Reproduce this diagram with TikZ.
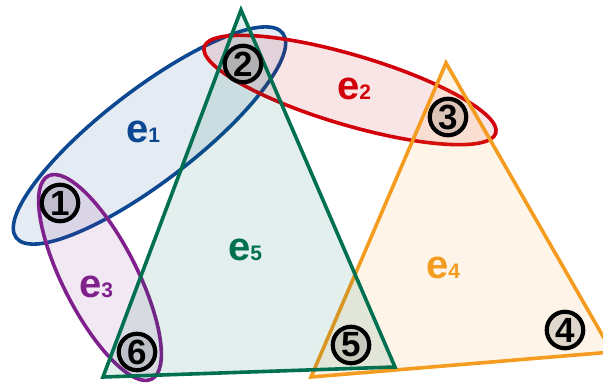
\documentclass[tikz,border=0pt]{standalone}
\usepackage{fontspec}
\setmainfont{Liberation Sans}
\definecolor{cblue}{RGB}{12,72,145}
\definecolor{cred}{RGB}{210,0,10}
\definecolor{cpurple}{RGB}{128,32,140}
\definecolor{corange}{RGB}{243,156,32}
\definecolor{cgreen}{RGB}{0,112,80}
\newcommand{\elab}[1]{e{\fontsize{21}{21}\selectfont #1}}
\begin{document}
\begin{tikzpicture}[x=1pt,y=-1pt,
  edge/.style={line width=3.6pt, line join=miter},
  vert/.style={circle, draw=black, line width=4.2pt, fill=black, fill opacity=0.12, text opacity=1,
    minimum size=36.5pt, inner sep=0pt, font=\fontsize{35}{35}\selectfont\bfseries},
  lab/.style={inner sep=0pt, anchor=base, font=\fontsize{40}{40}\selectfont\bfseries}]
\useasboundingbox (0,0) rectangle (603,385);
\clip (0,0) rectangle (603,385);
% e1 blue
\draw[edge, draw=cblue, fill=cblue, fill opacity=0.11, shift={(149.5,135.5)}, rotate=37.5]
  (0,0) ellipse [x radius=168, y radius=46];
% e2 red
\draw[edge, draw=cred, fill=cred, fill opacity=0.10, shift={(350,90)}, rotate=-16.5]
  (0,0) ellipse [x radius=152, y radius=35];
% e3 purple
\draw[edge, draw=cpurple, fill=cpurple, fill opacity=0.10, shift={(100,277.5)}, rotate=-63]
  (0,0) ellipse [x radius=114, y radius=37];
% e4 orange
\coordinate (o1) at (446,63);
\coordinate (o2) at (612,352);
\coordinate (o3) at (311,377);
\draw[edge, draw=corange, fill=corange, fill opacity=0.10] (o1) -- (o2) -- (o3) -- cycle;
% e5 green
\coordinate (g1) at (241,10);
\coordinate (g2) at (395,367);
\coordinate (g3) at (103,377);
\draw[edge, draw=cgreen, fill=cgreen, fill opacity=0.11] (g1) -- (g2) -- (g3) -- cycle;
% labels
\node[lab, text=cblue] (l1) at (143,143) {\elab{1}};
\node[lab, text=cred] (l2) at (354,100) {\elab{2}};
\node[lab, text=cpurple] (l3) at (96,297) {\elab{3}};
\node[lab, text=corange] (l4) at (443,278) {\elab{4}};
\node[lab, text=cgreen] (l5) at (245,261) {\elab{5}};
% vertices
\node[vert] (v1) at (60,203) {1};
\node[vert] (v2) at (243,64) {2};
\node[vert] (v3) at (448,117) {3};
\node[vert] (v4) at (565,330) {4};
\node[vert] (v5) at (351,345) {5};
\node[vert] (v6) at (137,352) {6};
\end{tikzpicture}
\end{document}
